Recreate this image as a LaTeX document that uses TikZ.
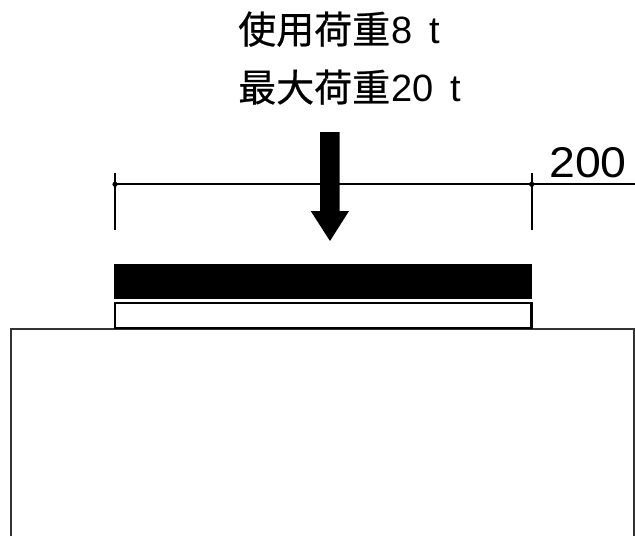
\documentclass[tikz,border=0pt]{standalone}
\usepackage{fontspec}
\setmainfont{Liberation Sans}
\newfontfamily\cjk[FakeBold=0.6]{Noto Sans CJK JP}
\tikzset{
  thinln/.style={line width=1.7pt,black},
  grd/.style={line width=2pt,black!80},
  lbl/.style={inner sep=0pt,anchor=base west,font=\fontsize{38}{38}\selectfont},
  diml/.style={inner sep=0pt,anchor=base west,font=\fontsize{43}{43}\selectfont},
}
\begin{document}
\begin{tikzpicture}[x=1pt,y=-1pt]
\useasboundingbox (0,0) rectangle (635,536);
% ground block
\coordinate (gbl) at (10.5,536);
\coordinate (gtl) at (10.5,329);
\coordinate (gtr) at (634.3,329);
\coordinate (gbr) at (634.3,536);
\draw[grd] (gbl) -- (gtl) -- (gtr) -- (gbr);
% plates
\node[draw=none,fill=black,outer sep=0pt,minimum width=418pt,minimum height=35pt,inner sep=0pt,anchor=north west] (plate) at (114,264) {};
\node[draw=black,line width=2.4pt,fill=white,outer sep=0pt,minimum width=416.5pt,minimum height=24.7pt,inner sep=0pt,anchor=north west] (pad) at (115,303) {};
% dimension
\coordinate (d1) at (115,184.3);
\coordinate (d2) at (531.7,184.3);
\coordinate (dend) at (635,184.3);
\coordinate (e1a) at (115,173); \coordinate (e1b) at (115,230);
\coordinate (e2a) at (531.7,173); \coordinate (e2b) at (531.7,230);
\draw[thinln] (d1) -- (dend);
\draw[thinln] (e1a) -- (e1b);
\draw[thinln] (e2a) -- (e2b);
\fill (d1) circle (2.6pt);
\fill (d2) circle (2.6pt);
% arrow
\fill (320,132) -- (339.5,132) -- (339.5,211) -- (349,211) -- (330,241) -- (310.7,211) -- (320,211) -- cycle;
% labels
\node[diml,xscale=1.08] (dim) at (549,177) {200};
\node[lbl] (t1) at (238,43.5) {\cjk 使用荷重\rmfamily\hspace{1.5pt}8\hspace{6pt} t};
\node[lbl] (t2) at (238,101.5) {\cjk 最大荷重\rmfamily\hspace{1.5pt}20\hspace{6pt} t};
\end{tikzpicture}
\end{document}
